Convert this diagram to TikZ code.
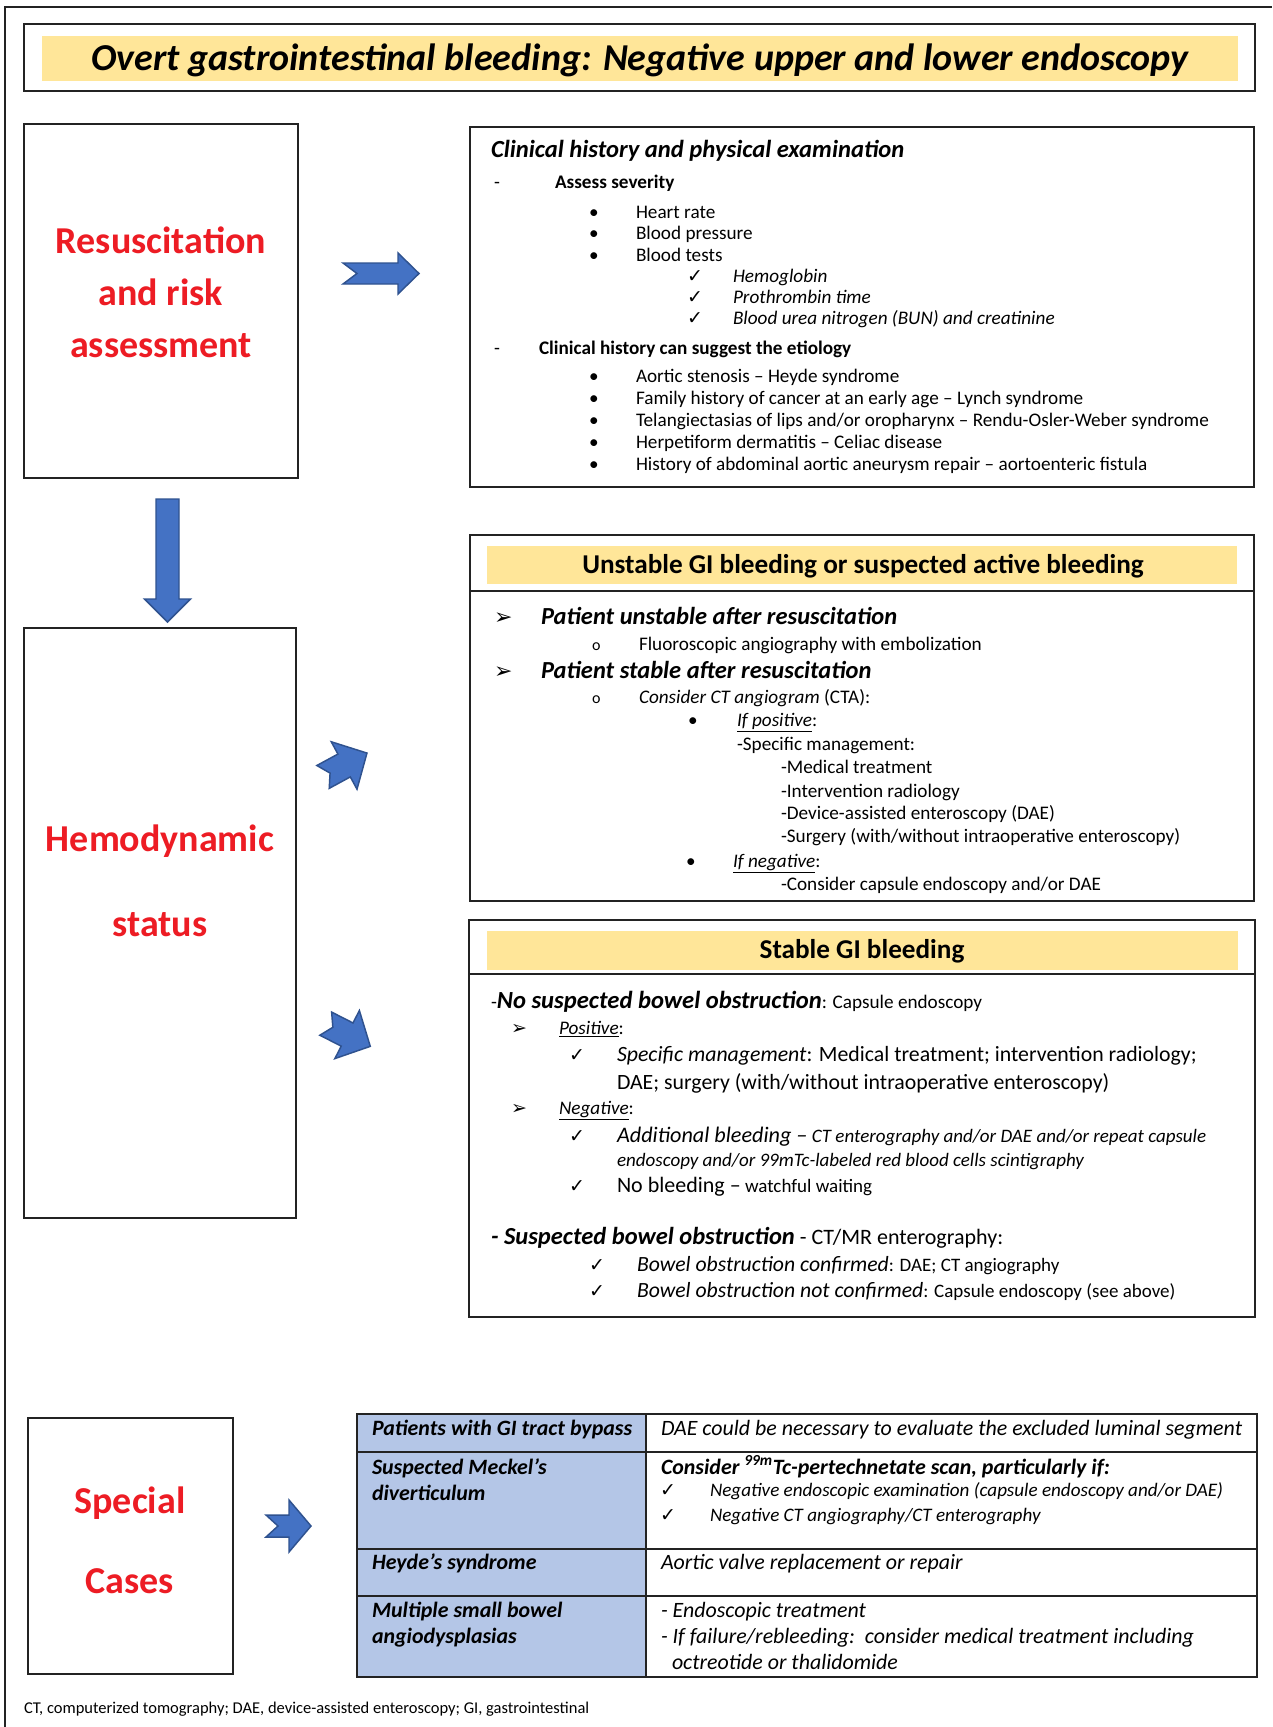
\documentclass[tikz,border=0pt]{standalone}
\usepackage{fontspec}
\setmainfont{Carlito}
\newfontfamily\symfont{DejaVu Sans}
\usetikzlibrary{fit}
\definecolor{ttlyellow}{RGB}{255,230,153}
\definecolor{redtxt}{RGB}{237,28,36}
\definecolor{arrfill}{RGB}{68,114,196}
\definecolor{arrdraw}{RGB}{47,82,143}
\definecolor{cellblue}{RGB}{180,198,231}
\definecolor{frame}{RGB}{35,35,35}
\newcommand\fsz[1]{\fontsize{\fpeval{0.75*#1}pt}{\fpeval{0.9*#1}pt}\selectfont}
% block arrow: cx, cy, angle, length, head width, shaft width, head length, notch
\newcommand\blockarr[8]{%
  \filldraw[arrowsty,shift={(#1,#2)},rotate=#3]
    ({-(#4)/2},{(#6)/2}) -- ({(#4)/2-(#7)},{(#6)/2}) -- ({(#4)/2-(#7)},{(#5)/2})
    -- ({(#4)/2},0) -- ({(#4)/2-(#7)},{-(#5)/2}) -- ({(#4)/2-(#7)},{-(#6)/2})
    -- ({-(#4)/2},{-(#6)/2}) -- ({-(#4)/2+(#8)},0) -- cycle;}
\begin{document}
\begin{tikzpicture}[x=0.75pt,y=-0.75pt,
  txt/.style={anchor=base west,inner sep=0pt,outer sep=0pt},
  ctxt/.style={anchor=base,inner sep=0pt,outer sep=0pt},
  boxsty/.style={draw=frame,line width=1.5pt,inner sep=0pt},
  yel/.style={fill=ttlyellow,draw=none,inner sep=0pt},
  cell/.style={draw=frame,line width=2pt,inner sep=0pt},
  arrowsty/.style={fill=arrfill,draw=arrdraw,line width=1.1pt,line join=miter},
  redlbl/.style={ctxt,text=redtxt,font=\fsz{38}\bfseries},
  body/.style={txt,font=\fsz{19.2}},
  sym/.style={txt,font=\fsz{19}\symfont},
  arrsym/.style={txt,font=\fsz{22}\symfont},
  bul/.style={txt,font=\fsz{19.2}},
]
\useasboundingbox (0,0) rectangle (1272,1727);
\fill[white] (0,0) rectangle (1272,1727);
\draw[line width=1.6pt,frame] (5,1727) -- (5,7) -- (1272,7);

% ---------- title ----------
\node[boxsty,fit={(24,24)(1255,91)}] (titlebox) {};
\node[yel,fit={(42,36)(1238,81)}] (titlefill) {};
\node[ctxt,font=\fsz{38}\bfseries\itshape] (title) at (640,71) {Overt gastrointestinal bleeding: Negative upper and lower endoscopy};

% ---------- left boxes ----------
\node[boxsty,fit={(24,124)(298,478)}] (resus) {};
\node[redlbl] (resus1) at (161,253) {Resuscitation};
\node[redlbl] (resus2) at (161,305) {and risk};
\node[redlbl] (resus3) at (161,357) {assessment};

\node[boxsty,fit={(24,628)(296,1218)}] (hemo) {};
\node[redlbl] (hemo1) at (160,851) {Hemodynamic};
\node[redlbl] (hemo2) at (160,936) {status};

\node[boxsty,fit={(28,1418)(233,1674)}] (special) {};
\node[redlbl] (spec1) at (130,1513) {Special};
\node[redlbl] (spec2) at (130,1593) {Cases};

% ---------- block arrows ----------
\blockarr{381}{273.5}{0}{76}{41}{21}{21}{14}
\blockarr{167.5}{560.5}{-90}{123}{46}{23}{23}{0}
\blockarr{345}{765}{28.5}{50}{54}{26}{26}{8}
\blockarr{348}{1035}{-27}{50}{54}{26}{26}{8}
\blockarr{288.5}{1526}{0}{45}{52}{22}{22}{12}

% ---------- box 1: clinical history ----------
\node[boxsty,fit={(470,127)(1254,487)}] (clin) {};
\node[txt,font=\fsz{24.6}\bfseries\itshape] (clinh) at (491,157) {Clinical history and physical examination};
\node[body] (d1) at (494,188) {-};
\node[body,font=\fsz{19.2}\bfseries] (assess) at (555,188) {Assess severity};
\node[bul] (bu1) at (589,218) {•};
\node[body] (hr) at (636,218) {Heart rate};
\node[bul] (bu2) at (589,239) {•};
\node[body] (bp) at (636,239) {Blood pressure};
\node[bul] (bu3) at (589,261) {•};
\node[body] (bt) at (636,261) {Blood tests};
\node[sym] (ck1) at (687,282) {✓};
\node[body,font=\fsz{19.2}\itshape] (hb) at (733,282) {Hemoglobin};
\node[sym] (ck2) at (687,303) {✓};
\node[body,font=\fsz{19.2}\itshape] (pt) at (733,303) {Prothrombin time};
\node[sym] (ck3) at (687,324) {✓};
\node[body,font=\fsz{19.2}\itshape] (bun) at (733,324) {Blood urea nitrogen (BUN) and creatinine};
\node[body] (d2) at (494,354) {-};
\node[body,font=\fsz{19.2}\bfseries] (etio) at (539,354) {Clinical history can suggest the etiology};
\node[bul] (bu4) at (589,382) {•};
\node[body] (e1) at (636,382) {Aortic stenosis – Heyde syndrome};
\node[bul] (bu5) at (589,404) {•};
\node[body] (e2) at (636,404) {Family history of cancer at an early age – Lynch syndrome};
\node[bul] (bu6) at (589,426) {•};
\node[body] (e3) at (636,426) {Telangiectasias of lips and/or oropharynx – Rendu-Osler-Weber syndrome};
\node[bul] (bu7) at (589,448) {•};
\node[body] (e4) at (636,448) {Herpetiform dermatitis – Celiac disease};
\node[bul] (bu8) at (589,470) {•};
\node[body] (e5) at (636,470) {History of abdominal aortic aneurysm repair – aortoenteric fistula};

% ---------- box 2: unstable ----------
\node[boxsty,fit={(470,535)(1254,901)}] (unst) {};
\node[yel,fit={(487,546)(1237,584)}] (unstfill) {};
\draw[line width=1.5pt,frame] (unst.west |- 0,591) -- (unst.east |- 0,591);
\node[ctxt,font=\fsz{27.2}\bfseries] (unsth) at (863,573) {Unstable GI bleeding or suspected active bleeding};
\node[arrsym] (ar1) at (494,624) {➢};
\node[txt,font=\fsz{24.5}\bfseries\itshape] (pu) at (541,624) {Patient unstable after resuscitation};
\node[txt,font=\fsz{16}] (o1) at (592,650) {o};
\node[body] (fl) at (639,650) {Fluoroscopic angiography with embolization};
\node[arrsym] (ar2) at (494,678) {➢};
\node[txt,font=\fsz{24.5}\bfseries\itshape] (ps) at (541,678) {Patient stable after resuscitation};
\node[txt,font=\fsz{16}] (o2) at (592,703) {o};
\node[body] (cta) at (639,703) {\textit{Consider CT angiogram} (CTA):};
\node[bul] (bu9) at (688,726) {•};
\node[body] (ifp) at (737,726) {\underline{\textit{If positive}}:};
\node[body] (spm) at (737,750) {-Specific management:};
\node[body] (m1) at (781,773) {-Medical treatment};
\node[body] (m2) at (781,797) {-Intervention radiology};
\node[body] (m3) at (781,819) {-Device-assisted enteroscopy (DAE)};
\node[body] (m4) at (781,842) {-Surgery (with/without intraoperative enteroscopy)};
\node[bul] (bu10) at (686,867) {•};
\node[body] (ifn) at (733,867) {\underline{\textit{If negative}}:};
\node[body] (cce) at (781,890) {-Consider capsule endoscopy and/or DAE};

% ---------- box 3: stable ----------
\node[boxsty,fit={(469,920)(1255,1317)}] (stab) {};
\node[yel,fit={(487,931)(1238,970)}] (stabfill) {};
\draw[line width=1.5pt,frame] (stab.west |- 0,974) -- (stab.east |- 0,974);
\node[ctxt,font=\fsz{27.2}\bfseries] (stabh) at (862,958) {Stable GI bleeding};
\node[txt] (nsb) at (491,1008) {{\fsz{19.2}-}{\fsz{24.6}\bfseries\itshape No suspected bowel obstruction}{\fsz{19.2}: Capsule endoscopy}};
\node[arrsym,font=\fsz{19}\symfont] (ar3) at (511,1034) {➢};
\node[body] (pos) at (559,1034) {\underline{\textit{Positive}}:};
\node[sym] (ck4) at (569,1061) {✓};
\node[txt,font=\fsz{21.8}] (sm1) at (617,1061) {\textit{Specific management}: Medical treatment; intervention radiology;};
\node[txt,font=\fsz{21.8}] (sm2) at (617,1089) {DAE; surgery (with/without intraoperative enteroscopy)};
\node[arrsym,font=\fsz{19}\symfont] (ar4) at (511,1114) {➢};
\node[body] (neg) at (559,1114) {\underline{\textit{Negative}}:};
\node[sym] (ck5) at (569,1142) {✓};
\node[txt] (ab1) at (617,1142) {{\fsz{22.2}\itshape Additional bleeding –}{\fsz{19}\itshape\ CT enterography and/or DAE and/or repeat capsule}};
\node[txt,font=\fsz{19}\itshape] (ab2) at (617,1166) {endoscopy and/or 99mTc-labeled red blood cells scintigraphy};
\node[sym] (ck6) at (569,1192) {✓};
\node[txt] (nb) at (617,1192) {{\fsz{22}No bleeding –}{\fsz{19}\ watchful waiting}};
\node[txt] (sb) at (491,1244) {{\fsz{24.5}\bfseries\itshape - Suspected bowel obstruction}{\fsz{22}\ - CT/MR enterography:}};
\node[sym] (ck7) at (589,1271) {✓};
\node[txt] (boc) at (637,1271) {{\fsz{21.7}\itshape Bowel obstruction confirmed}{\fsz{19}: DAE; CT angiography}};
\node[sym] (ck8) at (589,1297) {✓};
\node[txt] (bonc) at (637,1297) {{\fsz{21.7}\itshape Bowel obstruction not confirmed}{\fsz{19}: Capsule endoscopy (see above)}};

% ---------- special cases table ----------
\node[cell,fill=cellblue,fit={(357,1414)(646,1452)}] (r1c1) {};
\node[cell,fit={(646,1414)(1257,1452)}] (r1c2) {};
\node[cell,fill=cellblue,fit={(357,1452)(646,1549)}] (r2c1) {};
\node[cell,fit={(646,1452)(1257,1549)}] (r2c2) {};
\node[cell,fill=cellblue,fit={(357,1549)(646,1596)}] (r3c1) {};
\node[cell,fit={(646,1549)(1257,1596)}] (r3c2) {};
\node[cell,fill=cellblue,fit={(357,1596)(646,1677)}] (r4c1) {};
\node[cell,fit={(646,1596)(1257,1677)}] (r4c2) {};

\node[txt,font=\fsz{21.9}\bfseries\itshape] (t11) at (372,1435) {Patients with GI tract bypass};
\node[txt,font=\fsz{21.9}\itshape] (t12) at (661,1435) {DAE could be necessary to evaluate the excluded luminal segment};
\node[txt,font=\fsz{21.9}\bfseries\itshape] (t21a) at (372,1474) {Suspected Meckel’s};
\node[txt,font=\fsz{21.9}\bfseries\itshape] (t21b) at (372,1500) {diverticulum};
\node[txt,font=\fsz{21.9}\bfseries\itshape] (t22a) at (661,1474) {Consider \textsuperscript{99m}Tc-pertechnetate scan, particularly if:};
\node[sym] (ck9) at (660,1496) {✓};
\node[txt,font=\fsz{19.1}\itshape] (t22b) at (710,1496) {Negative endoscopic examination (capsule endoscopy and/or DAE)};
\node[sym] (ck10) at (660,1521) {✓};
\node[txt,font=\fsz{19.1}\itshape] (t22c) at (710,1521) {Negative CT angiography/CT enterography};
\node[txt,font=\fsz{21.9}\bfseries\itshape] (t31) at (372,1569) {Heyde’s syndrome};
\node[txt,font=\fsz{21.9}\itshape] (t32) at (661,1569) {Aortic valve replacement or repair};
\node[txt,font=\fsz{21.9}\bfseries\itshape] (t41a) at (372,1617) {Multiple small bowel};
\node[txt,font=\fsz{21.9}\bfseries\itshape] (t41b) at (372,1643) {angiodysplasias};
\node[txt,font=\fsz{21.9}\itshape] (t42a) at (661,1617) {- Endoscopic treatment};
\node[txt,font=\fsz{21.9}\itshape] (t42b) at (661,1643) {- If failure/rebleeding:\ \ consider medical treatment including};
\node[txt,font=\fsz{21.9}\itshape] (t42c) at (672,1669) {octreotide or thalidomide};

% ---------- footnote ----------
\node[txt,font=\fsz{16.5}] (foot) at (24,1713) {CT, computerized tomography; DAE, device-assisted enteroscopy; GI, gastrointestinal};
\end{tikzpicture}
\end{document}
